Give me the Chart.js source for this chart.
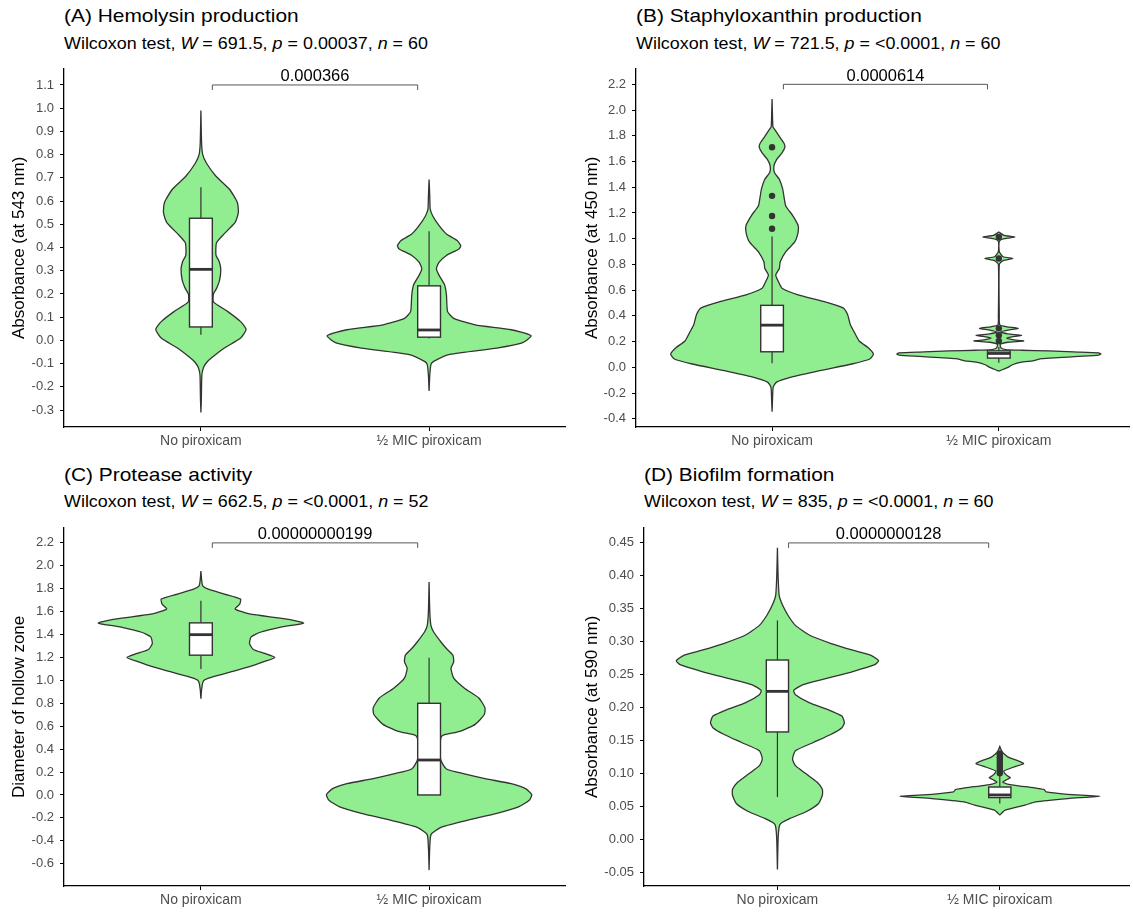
<!DOCTYPE html>
<html>
<head>
<meta charset="utf-8">
<script src="https://cdn.jsdelivr.net/npm/chart.js@4.4.1/dist/chart.umd.min.js"></script>
<style>
  body { margin: 0; background: #fff; width: 1133px; height: 913px; position: relative; overflow: hidden;
         font-family: "Liberation Sans", Arial, sans-serif; }
  canvas { position: absolute; }
  .ttl, .sub { position: absolute; white-space: nowrap; color: #000; line-height: 1;
               transform: scaleX(1.1); transform-origin: 0 0; }
  .ttl { font-size: 19px; }
  .sub { font-size: 16.3px; }
</style>
</head>
<body>
<div class="ttl" style="left:64px;top:6px">(A) Hemolysin production</div>
<div class="sub" style="left:64px;top:35px">Wilcoxon test, <i>W</i> = 691.5, <i>p</i> = 0.00037, <i>n</i> = 60</div>
<div class="ttl" style="left:636px;top:6px">(B) Staphyloxanthin production</div>
<div class="sub" style="left:636px;top:35px">Wilcoxon test, <i>W</i> = 721.5, <i>p</i> = &lt;0.0001, <i>n</i> = 60</div>
<div class="ttl" style="left:64px;top:465px">(C) Protease activity</div>
<div class="sub" style="left:64px;top:493px">Wilcoxon test, <i>W</i> = 662.5, <i>p</i> = &lt;0.0001, <i>n</i> = 52</div>
<div class="ttl" style="left:644px;top:465px">(D) Biofilm formation</div>
<div class="sub" style="left:644px;top:493px">Wilcoxon test, <i>W</i> = 835, <i>p</i> = &lt;0.0001, <i>n</i> = 60</div>

<canvas id="chartA" width="566" height="400" style="left:0;top:55px"></canvas>
<canvas id="chartB" width="567" height="400" style="left:566px;top:55px"></canvas>
<canvas id="chartC" width="566" height="400" style="left:0;top:514px"></canvas>
<canvas id="chartD" width="567" height="400" style="left:566px;top:514px"></canvas>

<script>
const categories = ['No piroxicam', '½ MIC piroxicam'];

// (A) Hemolysin
const ticksA = [-0.3, -0.2, -0.1, 0, 0.1, 0.2, 0.3, 0.4, 0.5, 0.6, 0.7, 0.8, 0.9, 1.0, 1.1];
const violinA1Y = [-0.31, -0.25, -0.15, -0.118, -0.095, -0.075, -0.033, 0.01, 0.047, 0.081, 0.124, 0.166, 0.2, 0.223, 0.26, 0.306, 0.34, 0.367, 0.42, 0.452, 0.508, 0.55, 0.593, 0.65, 0.707, 0.764, 0.8, 0.85, 0.99];
const violinA1W = [0, 0.002, 0.004, 0.011, 0.025, 0.047, 0.103, 0.174, 0.198, 0.174, 0.118, 0.055, 0.055, 0.068, 0.082, 0.087, 0.08, 0.066, 0.068, 0.095, 0.15, 0.164, 0.16, 0.126, 0.066, 0.024, 0.008, 0.003, 0];
const violinA2Y = [-0.218, -0.15, -0.104, -0.09, -0.06, -0.033, -0.011, 0.02, 0.046, 0.067, 0.095, 0.124, 0.196, 0.239, 0.28, 0.309, 0.337, 0.366, 0.394, 0.408, 0.43, 0.458, 0.494, 0.536, 0.565, 0.62, 0.693];
const violinA2W = [0, 0.003, 0.008, 0.02, 0.091, 0.297, 0.408, 0.447, 0.36, 0.202, 0.108, 0.081, 0.076, 0.068, 0.044, 0.032, 0.044, 0.076, 0.131, 0.139, 0.123, 0.076, 0.044, 0.016, 0.005, 0.003, 0];
const boxA = [[0.024, 0.058, 0.306, 0.526, 0.66], [0.008, 0.014, 0.045, 0.235, 0.47]];
const outliersA = [[], []];

// (B) Staphyloxanthin
const ticksB = [-0.4, -0.2, 0, 0.2, 0.4, 0.6, 0.8, 1.0, 1.2, 1.4, 1.6, 1.8, 2.0, 2.2];
const violinB1Y = [-0.346, -0.25, -0.154, -0.115, -0.077, -0.026, 0.026, 0.065, 0.103, 0.154, 0.205, 0.282, 0.333, 0.41, 0.462, 0.513, 0.564, 0.615, 0.667, 0.718, 0.769, 0.82, 0.898, 0.975, 1.052, 1.103, 1.18, 1.257, 1.333, 1.385, 1.462, 1.513, 1.564, 1.615, 1.667, 1.713, 1.744, 1.795, 1.846, 1.87, 1.95, 2.085];
const violinB1W = [0, 0.002, 0.005, 0.02, 0.084, 0.21, 0.352, 0.431, 0.447, 0.423, 0.384, 0.36, 0.345, 0.333, 0.313, 0.226, 0.115, 0.044, 0.028, 0.016, 0.032, 0.036, 0.06, 0.1, 0.115, 0.115, 0.091, 0.06, 0.052, 0.047, 0.032, 0.011, 0.008, 0.02, 0.044, 0.057, 0.052, 0.032, 0.013, 0.004, 0.002, 0];
const violinB2Y = [-0.03, -0.015, 0, 0.02, 0.04, 0.05, 0.06, 0.067, 0.075, 0.085, 0.095, 0.103, 0.113, 0.12, 0.128, 0.133, 0.138, 0.15, 0.17, 0.18, 0.195, 0.205, 0.215, 0.227, 0.24, 0.249, 0.26, 0.275, 0.29, 0.303, 0.315, 0.33, 0.4, 0.8, 0.83, 0.846, 0.86, 0.9, 0.98, 1.0, 1.013, 1.025, 1.052];
const violinB2W = [0, 0.02, 0.04, 0.06, 0.1, 0.15, 0.17, 0.19, 0.26, 0.35, 0.44, 0.45, 0.44, 0.33, 0.22, 0.1, 0.03, 0.01, 0.006, 0.006, 0.04, 0.11, 0.06, 0.035, 0.07, 0.1, 0.04, 0.008, 0.04, 0.085, 0.035, 0.004, 0.002, 0.002, 0.019, 0.062, 0.019, 0.002, 0.002, 0.024, 0.071, 0.024, 0];
const boxB = [[0.031, 0.121, 0.328, 0.482, 1.018], [0.035, 0.072, 0.108, 0.128, 0.16]];
const outliersB = [[1.077, 1.177, 1.333, 1.711], [0.205, 0.249, 0.303, 0.846, 1.013]];

// (C) Protease
const ticksC = [-0.6, -0.4, -0.2, 0, 0.2, 0.4, 0.6, 0.8, 1.0, 1.2, 1.4, 1.6, 1.8, 2.0, 2.2];
const violinC1Y = [0.84, 0.92, 0.98, 1.004, 1.033, 1.076, 1.119, 1.163, 1.2, 1.235, 1.27, 1.32, 1.38, 1.42, 1.465, 1.5, 1.537, 1.58, 1.623, 1.666, 1.709, 1.753, 1.796, 1.824, 1.88, 1.954];
const violinC1W = [0, 0.003, 0.008, 0.016, 0.055, 0.134, 0.213, 0.276, 0.324, 0.28, 0.23, 0.213, 0.22, 0.26, 0.35, 0.45, 0.37, 0.213, 0.15, 0.17, 0.174, 0.103, 0.032, 0.008, 0.003, 0];
const violinC2Y = [-0.656, -0.5, -0.363, -0.334, -0.276, -0.219, -0.161, -0.104, -0.046, 0.003, 0.055, 0.098, 0.141, 0.184, 0.227, 0.3, 0.4, 0.5, 0.521, 0.558, 0.616, 0.702, 0.76, 0.846, 0.932, 1.019, 1.105, 1.163, 1.22, 1.278, 1.335, 1.422, 1.479, 1.6, 1.859];
const violinC2W = [0, 0.002, 0.006, 0.013, 0.06, 0.171, 0.297, 0.392, 0.439, 0.45, 0.423, 0.36, 0.25, 0.155, 0.076, 0.052, 0.045, 0.052, 0.06, 0.139, 0.202, 0.242, 0.245, 0.218, 0.155, 0.108, 0.096, 0.108, 0.104, 0.076, 0.052, 0.02, 0.008, 0.003, 0];
const boxC = [[1.099, 1.22, 1.399, 1.502, 1.695], [0, 0, 0.305, 0.8, 1.197]];
const outliersC = [[], []];

// (D) Biofilm
const ticksD = [-0.05, 0, 0.05, 0.1, 0.15, 0.2, 0.25, 0.3, 0.35, 0.4, 0.45];
const violinD1Y = [-0.045, 0, 0.02, 0.025, 0.0325, 0.0425, 0.055, 0.0675, 0.0765, 0.0875, 0.1, 0.1125, 0.1225, 0.135, 0.1475, 0.16, 0.17, 0.1775, 0.1875, 0.1975, 0.2075, 0.22, 0.2265, 0.235, 0.245, 0.255, 0.265, 0.2715, 0.28, 0.2875, 0.2975, 0.31, 0.325, 0.34, 0.355, 0.37, 0.4, 0.4425];
const violinD1W = [0, 0.003, 0.008, 0.016, 0.057, 0.129, 0.185, 0.202, 0.202, 0.178, 0.129, 0.081, 0.068, 0.081, 0.161, 0.242, 0.29, 0.301, 0.29, 0.226, 0.145, 0.081, 0.073, 0.113, 0.226, 0.339, 0.435, 0.455, 0.419, 0.339, 0.242, 0.145, 0.081, 0.048, 0.024, 0.008, 0.003, 0];
const violinD2Y = [0.0375, 0.045, 0.0525, 0.0575, 0.0625, 0.066, 0.069, 0.0725, 0.076, 0.079, 0.0815, 0.084, 0.0875, 0.091, 0.094, 0.098, 0.104, 0.11, 0.1155, 0.12, 0.125, 0.13, 0.135, 0.1415];
const violinD2W = [0, 0.024, 0.113, 0.161, 0.306, 0.451, 0.305, 0.208, 0.2, 0.15, 0.09, 0.04, 0.013, 0.03, 0.048, 0.03, 0.018, 0.06, 0.107, 0.08, 0.04, 0.02, 0.008, 0];
const boxD = [[0.065, 0.1635, 0.225, 0.2725, 0.3325], [0.055, 0.064, 0.068, 0.08, 0.097]];
const outliersD = [[], [0.101, 0.105, 0.109, 0.113, 0.117, 0.121, 0.125, 0.129, 0.131]];

const FONT = '"Liberation Sans", Arial, sans-serif';

function violinPoints(center, ys, ws) {
  const right = ys.map((y, i) => ({ x: center + ws[i], y: y }));
  const left = ys.map((y, i) => ({ x: center - ws[i], y: y })).reverse();
  return right.concat(left);
}

// boxes, whiskers and the significance bracket
const boxPlugin = {
  id: 'boxes',
  afterDatasetsDraw(chart, args, opts) {
    const { ctx, scales: { x, y } } = chart;
    ctx.save();
    ctx.strokeStyle = '#333';
    opts.boxes.forEach((b, i) => {
      const c = i + 1;
      const xc = x.getPixelForValue(c);
      const xl = x.getPixelForValue(c - 0.05);
      const xr = x.getPixelForValue(c + 0.05);
      const yTop = y.getPixelForValue(b[3]);
      const yBot = y.getPixelForValue(b[1]);
      ctx.lineWidth = 1.2;
      ctx.beginPath();
      ctx.moveTo(xc, y.getPixelForValue(b[0]));
      ctx.lineTo(xc, yBot);
      ctx.moveTo(xc, yTop);
      ctx.lineTo(xc, y.getPixelForValue(b[4]));
      ctx.stroke();
      ctx.fillStyle = '#fff';
      ctx.fillRect(xl, yTop, xr - xl, yBot - yTop);
      ctx.lineWidth = 1.4;
      ctx.strokeRect(xl, yTop, xr - xl, yBot - yTop);
      ctx.lineWidth = 2.8;
      ctx.beginPath();
      const ym = y.getPixelForValue(b[2]);
      ctx.moveTo(xl, ym);
      ctx.lineTo(xr, ym);
      ctx.stroke();
    });

    const br = opts.bracket;
    const x1 = x.getPixelForValue(1.05), x2 = x.getPixelForValue(1.95);
    const yb = y.getPixelForValue(br.y);
    ctx.lineWidth = 0.9;
    ctx.strokeStyle = '#444';
    ctx.beginPath();
    ctx.moveTo(x1, yb + 5);
    ctx.lineTo(x1, yb);
    ctx.lineTo(x2, yb);
    ctx.lineTo(x2, yb + 5);
    ctx.stroke();
    ctx.fillStyle = '#000';
    ctx.font = '16.5px ' + FONT;
    ctx.textAlign = 'center';
    ctx.textBaseline = 'alphabetic';
    ctx.fillText(br.label, (x1 + x2) / 2, yb - 3.5);
    ctx.restore();
  }
};

function makePanel(id, p) {
  const datasets = [
    { data: violinPoints(1, p.v1y, p.v1w) },
    { data: violinPoints(2, p.v2y, p.v2w) }
  ].map(d => Object.assign(d, {
    showLine: true, fill: 'shape', tension: 0.18, order: 1,
    borderColor: '#333', borderWidth: 1.3, backgroundColor: '#90EE90',
    pointRadius: 0
  }));
  const pts = [];
  p.outliers.forEach((list, i) => list.forEach(v => pts.push({ x: i + 1, y: v })));
  datasets.push({ data: pts, order: 0, pointRadius: 3.2, pointBackgroundColor: '#333', pointBorderWidth: 0 });

  new Chart(document.getElementById(id), {
    type: 'scatter',
    data: { datasets },
    plugins: [boxPlugin],
    options: {
      responsive: false,
      animation: false,
      layout: { padding: { top: 10, left: 0, right: 0, bottom: 0 } },
      plugins: {
        legend: { display: false },
        tooltip: { enabled: false },
        boxes: { boxes: p.boxes, bracket: p.bracket }
      },
      scales: {
        x: {
          type: 'linear', min: 0.4, max: p.xMax, bounds: 'data',
          afterBuildTicks: s => { s.ticks = [{ value: 1 }, { value: 2 }]; },
          afterFit: s => { s.height = 28; },
          grid: { drawOnChartArea: false, tickLength: 4, color: '#000', tickWidth: 1 },
          border: { color: '#000', width: 1.3 },
          ticks: {
            autoSkip: false, maxRotation: 0, padding: 2, color: '#4d4d4d',
            font: { family: FONT, size: 14 },
            callback: v => categories[v - 1]
          }
        },
        y: {
          type: 'linear', min: p.yMin, max: p.yMax, bounds: 'data',
          afterBuildTicks: s => { s.ticks = p.ticks.map(v => ({ value: v })); },
          afterFit: s => { s.width = p.yW; },
          grid: { drawOnChartArea: false, tickLength: 4, color: '#000', tickWidth: 1 },
          border: { color: '#000', width: 1.3 },
          ticks: {
            padding: 6, color: '#4d4d4d',
            font: { family: FONT, size: 13 },
            callback: v => v.toFixed(p.dec)
          },
          title: {
            display: true, text: p.yTitle, color: '#000',
            font: { family: FONT, size: 17 },
            padding: { top: p.titlePad, bottom: 0 }
          }
        }
      }
    }
  });
}

makePanel('chartA', {
  v1y: violinA1Y, v1w: violinA1W, v2y: violinA2Y, v2w: violinA2W,
  boxes: boxA, outliers: outliersA, ticks: ticksA, dec: 1,
  yMin: -0.3728, yMax: 1.1696, xMax: 2.6, yW: 64, titlePad: 9,
  yTitle: 'Absorbance (at 543 nm)', bracket: { y: 1.1, label: '0.000366' }
});
makePanel('chartB', {
  v1y: violinB1Y, v1w: violinB1W, v2y: violinB2Y, v2w: violinB2W,
  boxes: boxB, outliers: outliersB, ticks: ticksB, dec: 1,
  yMin: -0.4638, yMax: 2.3208, xMax: 2.574, yW: 70, titlePad: 16,
  yTitle: 'Absorbance (at 450 nm)', bracket: { y: 2.2, label: '0.0000614' }
});
makePanel('chartC', {
  v1y: violinC1Y, v1w: violinC1W, v2y: violinC2Y, v2w: violinC2W,
  boxes: boxC, outliers: outliersC, ticks: ticksC, dec: 1,
  yMin: -0.7945, yMax: 2.3316, xMax: 2.6, yW: 64, titlePad: 9,
  yTitle: 'Diameter of hollow zone', bracket: { y: 2.2, label: '0.00000000199' }
});
makePanel('chartD', {
  v1y: violinD1Y, v1w: violinD1W, v2y: violinD2Y, v2w: violinD2W,
  boxes: boxD, outliers: outliersD, ticks: ticksD, dec: 2,
  yMin: -0.07, yMax: 0.4729, xMax: 2.581, yW: 78, titlePad: 16,
  yTitle: 'Absorbance (at 590 nm)', bracket: { y: 0.45, label: '0.0000000128' }
});
</script>
</body>
</html>
